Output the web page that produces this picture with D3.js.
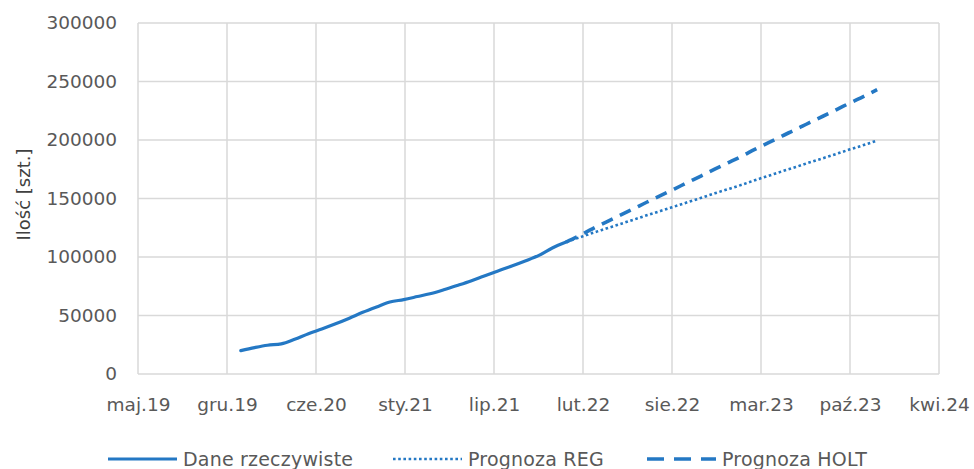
<!DOCTYPE html>
<html>
<head>
<meta charset="utf-8">
<script src="https://cdn.jsdelivr.net/npm/d3@7"></script>
<style>
  body { margin: 0; background: #fff; }
  text { font-family: "DejaVu Sans", sans-serif; fill: #595959; }
</style>
</head>
<body>
<div id="chart"></div>
<script>
// x axis ticks (Excel date axis, fixed step)
const tickDates = ["2019-05-15", "2019-12-01", "2020-06-18", "2021-01-04", "2021-07-23",
                   "2022-02-08", "2022-08-27", "2023-03-15", "2023-10-01", "2024-04-18"];
const tickLabels = ["maj.19", "gru.19", "cze.20", "sty.21", "lip.21",
                    "lut.22", "sie.22", "mar.23", "paź.23", "kwi.24"];
const yTicks = [0, 50000, 100000, 150000, 200000, 250000, 300000];

// actual data, monthly 2020-01 .. 2022-01
const actualMonths = ["2020-01", "2020-02", "2020-03", "2020-04", "2020-05", "2020-06", "2020-07",
  "2020-08", "2020-09", "2020-10", "2020-11", "2020-12", "2021-01", "2021-02", "2021-03", "2021-04",
  "2021-05", "2021-06", "2021-07", "2021-08", "2021-09", "2021-10", "2021-11", "2021-12", "2022-01"];
const actualValues = [20000, 22600, 24600, 25700, 29600, 34500, 38500, 42900, 47700, 52700, 57300,
  61500, 63600, 66200, 68600, 72000, 75600, 79500, 83800, 88100, 92300, 96600, 101400, 107700, 112800];

// forecasts, monthly 2022-01 .. 2023-12
const forecastMonths = ["2022-01", "2022-02", "2022-03", "2022-04", "2022-05", "2022-06", "2022-07",
  "2022-08", "2022-09", "2022-10", "2022-11", "2022-12", "2023-01", "2023-02", "2023-03", "2023-04",
  "2023-05", "2023-06", "2023-07", "2023-08", "2023-09", "2023-10", "2023-11", "2023-12"];
const regValues = [113000, 116800, 120500, 124300, 128000, 131800, 135600, 139300, 143100, 146800,
  150600, 154400, 158100, 161900, 165600, 169400, 173200, 176900, 180700, 184400, 188200, 192000,
  195700, 199500];
const holtValues = [112800, 118500, 124100, 129800, 135400, 141100, 146800, 152400, 158100, 163700,
  169400, 175100, 180700, 186400, 192000, 197700, 203400, 209000, 214700, 220300, 226000, 231700,
  237300, 243000];

const seriesNames = ["Dane rzeczywiste", "Prognoza REG", "Prognoza HOLT"];

const W = 974, H = 469;
const margin = {top: 23, right: 35, bottom: 95, left: 138};
const color = "#2478c4";
const grid = "#d9d9d9";

const parseDay = d3.utcParse("%Y-%m-%d");
const parseMonth = d3.utcParse("%Y-%m");

const svg = d3.select("#chart").append("svg")
  .attr("width", W)
  .attr("height", H);

const x = d3.scaleUtc()
  .domain([parseDay(tickDates[0]), parseDay(tickDates[tickDates.length - 1])])
  .range([margin.left, W - margin.right]);
const y = d3.scaleLinear()
  .domain([0, 300000])
  .range([H - margin.bottom, margin.top]);

// grid lines
svg.append("g")
  .selectAll("line")
  .data(yTicks)
  .join("line")
    .attr("x1", margin.left).attr("x2", W - margin.right)
    .attr("y1", d => y(d)).attr("y2", d => y(d))
    .attr("stroke", grid).attr("stroke-width", 1.5);
svg.append("g")
  .selectAll("line")
  .data(tickDates)
  .join("line")
    .attr("x1", d => x(parseDay(d))).attr("x2", d => x(parseDay(d)))
    .attr("y1", y(0)).attr("y2", y(300000))
    .attr("stroke", grid).attr("stroke-width", 1.5);

// axes (labels only)
const yAxis = svg.append("g")
  .attr("transform", "translate(" + margin.left + ",0)")
  .call(d3.axisLeft(y).tickValues(yTicks).tickFormat(d3.format("d")).tickSize(0).tickPadding(21));
const xAxis = svg.append("g")
  .attr("transform", "translate(0," + y(0) + ")")
  .call(d3.axisBottom(x).tickValues(tickDates.map(parseDay))
    .tickFormat((d, i) => tickLabels[i]).tickSize(0).tickPadding(24));
[yAxis, xAxis].forEach(a => {
  a.select(".domain").remove();
  a.selectAll("text").attr("font-size", 18.5).attr("fill", "#595959")
    .attr("font-family", "DejaVu Sans, sans-serif");
});

svg.append("text")
  .attr("transform", "translate(30," + (y(150000) - 4) + ") rotate(-90)")
  .attr("text-anchor", "middle")
  .attr("font-size", 18)
  .style("fill", "#404040")
  .text("Ilość [szt.]");

// lines
const line = d3.line()
  .x(d => x(d.date))
  .y(d => y(d.value))
  .curve(d3.curveMonotoneX);

const actual = actualMonths.map((m, i) => ({date: parseMonth(m), value: actualValues[i]}));
const reg = forecastMonths.map((m, i) => ({date: parseMonth(m), value: regValues[i]}));
const holt = forecastMonths.map((m, i) => ({date: parseMonth(m), value: holtValues[i]}));

const styles = [
  {width: 3.2, dash: null, cap: "round", legendDash: null},
  {width: 2.6, dash: "2.6 2.6", cap: "butt", legendDash: "2.6 2.6"},
  {width: 3.6, dash: "12 8", cap: "butt", legendDash: "17 10"}
];

[actual, reg, holt].forEach((data, i) => {
  svg.append("path")
    .datum(data)
    .attr("fill", "none")
    .attr("stroke", color)
    .attr("stroke-width", styles[i].width)
    .attr("stroke-linecap", styles[i].cap)
    .attr("stroke-dasharray", styles[i].dash)
    .attr("d", line);
});

// legend
const legendX = [108, 393, 647];
const legend = svg.append("g").attr("transform", "translate(0,459)");
seriesNames.forEach((name, i) => {
  const g = legend.append("g").attr("transform", "translate(" + legendX[i] + ",0)");
  g.append("line")
    .attr("x1", 0).attr("x2", 69)
    .attr("stroke", color)
    .attr("stroke-width", styles[i].width)
    .attr("stroke-dasharray", styles[i].legendDash);
  g.append("text")
    .attr("x", 75)
    .attr("dy", "0.35em")
    .attr("font-size", 19)
    .attr("letter-spacing", 0.2)
    .text(name);
});
</script>
</body>
</html>
